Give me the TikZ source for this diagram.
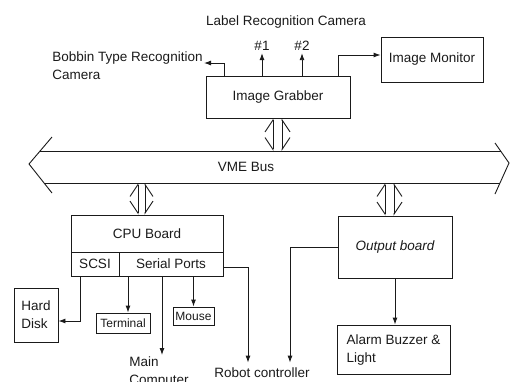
\documentclass[tikz,border=0pt]{standalone}
\usepackage{fontspec}
\setmainfont{Liberation Sans}
\usetikzlibrary{arrows.meta, positioning, calc}
\definecolor{cink}{HTML}{1A1A1A}
\tikzset{
  every picture/.style={font=\fontsize{13.5}{18}\selectfont, line width=0.9pt, color=cink},
  box/.style={draw=cink, align=center, inner sep=0pt},
  small/.style={font=\fontsize{12}{16}\selectfont},
  tag/.style={inner sep=0pt, align=left},
  arrow/.style={-{Latex[length=7pt, width=5pt]}, draw=cink},
  portl/.style={{Straight Barb[harpoon, length=12pt, width=16pt]}-{Straight Barb[harpoon, swap, length=12pt, width=16pt]}},
  portr/.style={{Straight Barb[harpoon, swap, length=12pt, width=16pt]}-{Straight Barb[harpoon, length=12pt, width=16pt]}},
}

\begin{document}
\begin{tikzpicture}[x=1pt, y=-1pt]
  \useasboundingbox (0,0) rectangle (510,381);
  % boxes
  \node[box, minimum width=144, minimum height=42] (grab) at (278,97) {Image Grabber};
  \node[box, minimum width=102, minimum height=45] (mon) at (432,59.5) {Image Monitor};
  \node[box, minimum width=152, minimum height=37] (cpu) at (147,233.5) {CPU Board};
  \node[box, minimum width=48, minimum height=24] (scsi) at (95,264) {SCSI};
  \node[box, minimum width=104, minimum height=24] (serial) at (171,264) {Serial Ports};
  \node[box, minimum width=44, minimum height=54, align=left] (disk) at (36,315) {Hard\\Disk};
  \node[box, small, minimum width=54, minimum height=20] (term) at (123,323) {Terminal};
  \node[box, small, minimum width=41, minimum height=18] (mouse) at (193.5,316) {Mouse};
  \node[box, minimum width=114, minimum height=62, font=\fontsize{13.5}{18}\selectfont\itshape] (out) at (395,247) {Output board};
  \node[box, minimum width=113, minimum height=49, align=left] (alarm) at (393.5,349.5) {Alarm Buzzer \&\\Light};
  % free texts
  \node[tag] (lrc) at (286,22) {Label Recognition Camera};
  \node[tag] (cam1) at (262,46) {\#1};
  \node[tag] (cam2) at (302,46) {\#2};
  \node[tag, anchor=west] (bob) at (52,66) {Bobbin Type Recognition\\Camera};
  \node[tag, anchor=north west] (main) at (129,356) {Main\\Computer};
  \node[tag] (robot) at (262,373) {Robot controller};
  % VME bus
  \node[tag] (bus) at (246,167) {VME Bus};
  \coordinate (bustop) at (0,151);
  \coordinate (busbot) at (0,183);
  \draw (52,137) -- (29,164) -- (52,193);
  \draw (495,143) -- (509,163) -- (495,194);
  \draw (40,151) -- (500.6,151);
  \draw (44,183) -- (500,183);
  % bus ports
  \draw[portl] ([xshift=-5]grab.south) -- ([xshift=-5]grab.south |- bustop);
  \draw[portr] ([xshift=4]grab.south) -- ([xshift=4]grab.south |- bustop);
  \draw[portl] ([xshift=-9]cpu.north |- busbot) -- ([xshift=-9]cpu.north);
  \draw[portr] ([xshift=-2]cpu.north |- busbot) -- ([xshift=-2]cpu.north);
  \draw[portl] ([xshift=-10]out.north |- busbot) -- ([xshift=-10]out.north);
  \draw[portr] ([xshift=-1]out.north |- busbot) -- ([xshift=-1]out.north);
  % camera side
  \draw[arrow, shorten >=1pt] ([xshift=-54]grab.north) |- ([yshift=3]bob.east);
  \draw[arrow, shorten >=2pt] (cam1.south |- grab.north) -- (cam1.south);
  \draw[arrow, shorten >=2pt] (cam2.south |- grab.north) -- (cam2.south);
  \draw[arrow] ([xshift=60]grab.north) |- ([yshift=4.5]mon.west);
  % cpu side
  \draw[arrow] ([xshift=-15]scsi.south) |- ([yshift=-6]disk.east);
  \draw[arrow] ([xshift=5]term.north |- serial.south) -- ([xshift=5]term.north);
  \draw[arrow] (mouse.north |- serial.south) -- (mouse.north);
  \draw[arrow, shorten >=1pt] ([xshift=-9]serial.south) -- ([xshift=-9]serial.south |- main.north);
  \draw[arrow, shorten >=5pt] ([yshift=-3]serial.east) -| ([xshift=-14]robot.north);
  % output side
  \draw[arrow, shorten >=5pt] (out.west) -| ([xshift=28]robot.north);
  \draw[arrow] (out.south) -- (out.south |- alarm.north);
\end{tikzpicture}
\end{document}
